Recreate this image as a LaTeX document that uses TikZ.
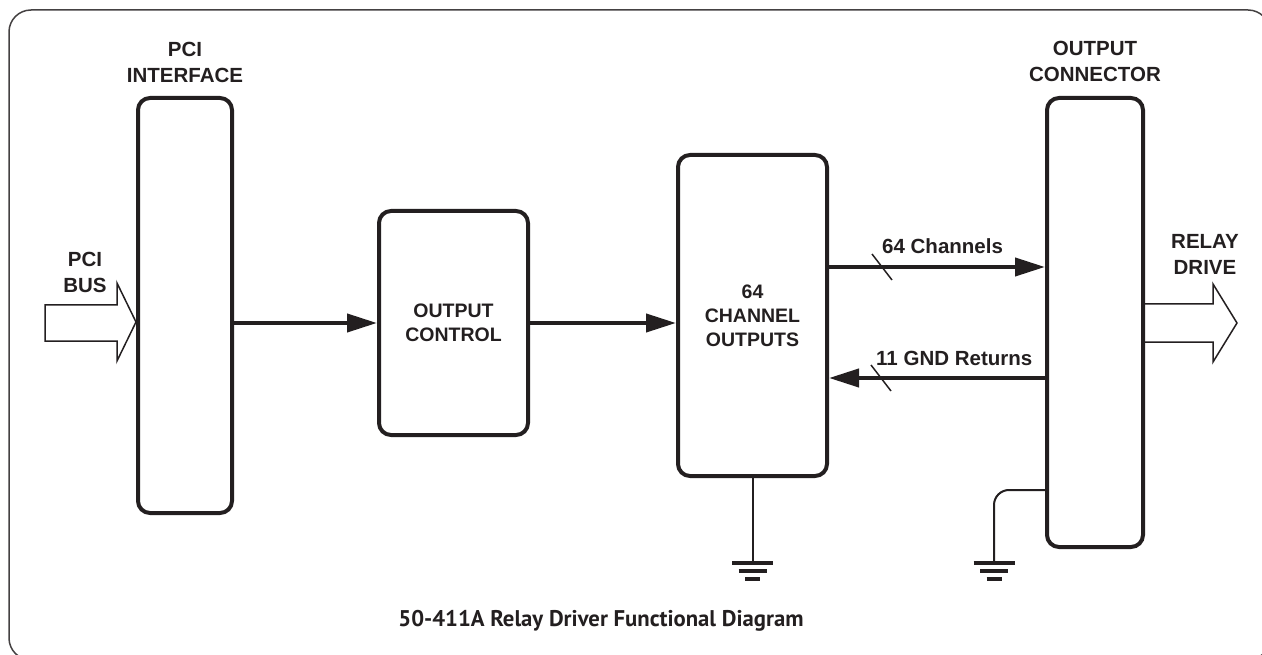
\documentclass[tikz,border=0pt]{standalone}
\usepackage{fontspec}
\setmainfont{Liberation Sans}
\newfontfamily\capfont{PT Sans}
\usetikzlibrary{arrows.meta}
\definecolor{ink}{RGB}{35,31,32}
\begin{document}
\begin{tikzpicture}[x=1pt,y=-1pt,
  every node/.style={text=ink},
  blk/.style={draw=ink, line width=4pt, rounded corners=12pt, inner sep=0pt, align=center,
    font=\fontsize{19.5}{24}\selectfont\bfseries},
  lbl/.style={align=center, font=\fontsize{20.5}{26}\selectfont\bfseries},
  arr/.style={draw=ink, line width=4pt, -{Triangle[length=30pt,width=18pt]}},
  slash/.style={draw=ink, line width=1.5pt},
  hollow/.style={draw=ink, line width=1.5pt, line join=miter},
  lead/.style={draw=ink, line width=2pt},
  ground/.pic={\draw[ink, line width=4pt] (-20.5,0) -- (20.5,0) (-14,8) -- (14,8) (-7.5,16) -- (7.5,16);}
]
\useasboundingbox (0,0) rectangle (1262,655);
\clip (0,0) rectangle (1262,655);
% frame
\draw[ink!85, line width=1.5pt, rounded corners=22pt] (9,10) rectangle (1270,660);

% blocks
\node[blk, minimum width=94pt, minimum height=415pt] (pci) at (185,305.5) {};
\node[blk, minimum width=149pt, minimum height=224pt] (ctrl) at (453.5,323) {OUTPUT\\CONTROL};
\node[blk, minimum width=149pt, minimum height=321pt] (chan) at (752.5,315.5) {64\\CHANNEL\\OUTPUTS};
\node[blk, minimum width=96pt, minimum height=449pt] (conn) at (1095,322.5) {};

% block titles
\node[lbl] (pcit) at (185,62) {PCI\\INTERFACE};
\node[lbl] (connt) at (1095,61) {OUTPUT\\CONNECTOR};
\node[lbl] (bust) at (85,272) {PCI\\BUS};
\node[lbl] (relt) at (1205,254) {RELAY\\DRIVE};

% connectors
\draw[arr] (pci.east |- ctrl.west) -- (ctrl.west);
\draw[arr] (ctrl.east) -- (chan.west |- ctrl.east);
\draw[arr] ([yshift=48.5pt]chan.east) -- ([yshift=48.5pt]chan.east -| conn.west);
\draw[arr] ([yshift=-62.5pt]chan.east -| conn.west) -- ([yshift=-62.5pt]chan.east);

% bus slashes and labels
\draw[slash] (882,267) +(-10,-13) -- +(10,13);
\draw[slash] (881,378) +(-10,-13) -- +(10,13);
\node[anchor=base west, inner sep=0pt, font=\fontsize{20.5}{22}\selectfont\bfseries] (l64) at (882,254) {64 Channels};
\node[anchor=base west, inner sep=0pt, font=\fontsize{20.5}{22}\selectfont\bfseries] (l11) at (876,365) {11 GND Returns};

% hollow bus arrows
\draw[hollow] (45,305) -- (117,305) -- (117,283) -- (pci.west |- 0,322) -- (117,361) -- (117,341) -- (45,341) -- cycle;
\draw[hollow] (conn.east |- 0,304) -- (1213,304) -- (1213,284) -- (1237,323) -- (1213,362) -- (1213,342) -- (conn.east |- 0,342);

% grounds
\coordinate (g1) at (752.5,563);
\coordinate (g2) at (994,563);
\draw[lead] (chan.south) -- (g1);
\draw[lead, rounded corners=15pt] ([yshift=-167.5pt]conn.west) -| (g2);
\pic at (g1) {ground};
\pic at (g2) {ground};

% caption
\node[font=\capfont\fontsize{22.7}{26}\selectfont\bfseries] (cap) at (601,621) {50-411A Relay Driver Functional Diagram};
\end{tikzpicture}
\end{document}
